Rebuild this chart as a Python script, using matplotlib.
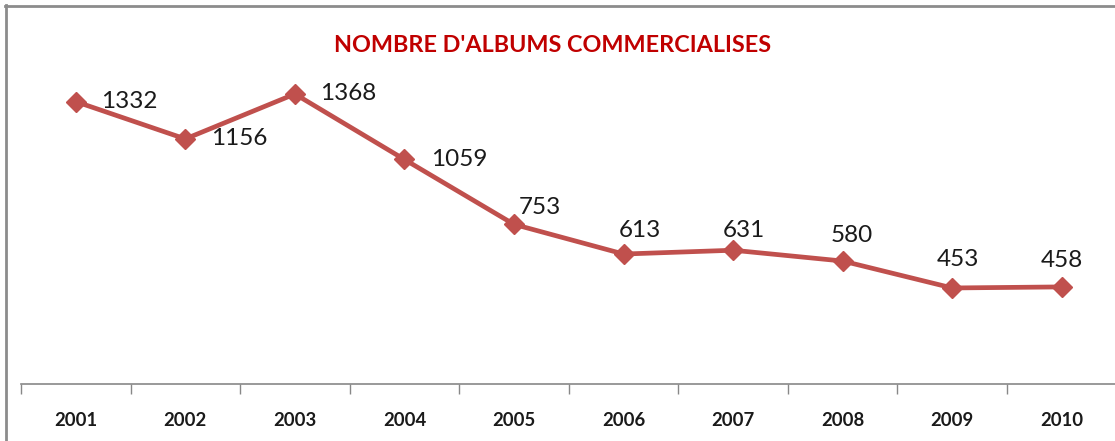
from matplotlib import pyplot as plt, lines
import numpy as np

years = ['2001', '2002', '2003', '2004', '2005', '2006', '2007', '2008', '2009', '2010']
albums = [1332, 1156, 1368, 1059, 753, 613, 631, 580, 453, 458]
title = "NOMBRE D'ALBUMS COMMERCIALISES"

# label offsets in pixels (dx, dy) and alignment
label_offsets = [(25, 0), (26, 0), (25, 0), (27, 0), (26, 17), (16, 24),
                 (11, 20), (9, 26), (6, 28), (0, 26)]
label_ha = ['left', 'left', 'left', 'left', 'center', 'center',
            'center', 'center', 'center', 'center']

W, H = 1115, 441
fig = plt.figure(figsize=(W / 100, H / 100), dpi=100)
fig.patch.set_facecolor('white')

ax = fig.add_axes([21 / W, (H - 384) / H, (1116.6 - 21) / W, (384 - 44.8) / H])
x = np.arange(len(years))
ax.plot(x, albums, color='#C0504D', lw=3.4, marker='D', ms=10, zorder=3, clip_on=False)

for i, v in enumerate(albums):
    dx, dy = label_offsets[i]
    ax.annotate(str(v), (x[i], v), xytext=(dx, dy), textcoords='offset pixels',
                ha=label_ha[i], va='center', fontsize=17.5, family='Lato', color='#1a1a1a')

ax.set_xlim(-0.5, len(years) - 0.5)
ax.set_ylim(0, 1600)
ax.set_xticks(x)
ax.set_xticklabels(years, fontsize=13.3, fontweight='bold', family='Lato', color='#1a1a1a')
ax.set_xticks(np.arange(-0.5, len(years)), minor=True)
ax.tick_params(axis='x', which='major', length=0, pad=20)
ax.tick_params(axis='x', which='minor', length=7, color='#888888', width=1)
ax.set_yticks([])
for s in ['top', 'right', 'left']:
    ax.spines[s].set_visible(False)
ax.spines['bottom'].set_color('#888888')
ax.spines['bottom'].set_linewidth(1.2)

fig.text(553 / W, 1 - 46 / H, title, ha='center', va='center', color='#C00000',
         fontsize=16.8, fontweight='bold', family='Lato')

# outer chart frame (top and left edges visible)
fig.add_artist(lines.Line2D([5 / W, 1114 / W], [1 - 6 / H, 1 - 6 / H],
                            color='#8c8c8c', lw=2, transform=fig.transFigure))
fig.add_artist(lines.Line2D([6 / W, 6 / W], [1 - 5 / H, 0],
                            color='#8c8c8c', lw=2, transform=fig.transFigure))

fig.savefig('out.png', dpi=100)
